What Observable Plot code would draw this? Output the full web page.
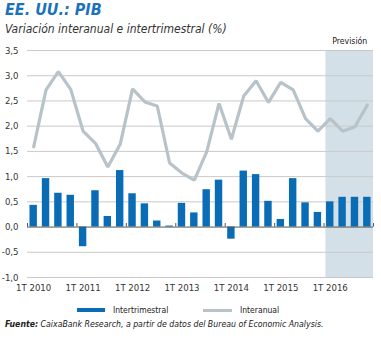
<!DOCTYPE html>
<html><head><meta charset="utf-8">
<script src="https://cdn.jsdelivr.net/npm/d3@7"></script>
<script src="https://cdn.jsdelivr.net/npm/@observablehq/plot@0.6"></script>
<style>
body{margin:0;background:#fff;}
#wrap{position:relative;width:381px;height:338px;overflow:hidden;font-family:"DejaVu Sans Condensed","Liberation Sans Narrow",sans-serif;color:#222;}
#title{position:absolute;left:5px;top:1px;font-size:16px;line-height:18px;font-weight:bold;font-style:italic;color:#1a73ba;white-space:nowrap;}
#sub{position:absolute;left:5px;top:22px;font-size:12px;line-height:15px;font-style:italic;color:#333;white-space:nowrap;}
#chart{position:absolute;left:0;top:34px;}
.sw{position:absolute;}
.lt{position:absolute;font-size:8.5px;line-height:10px;color:#222;white-space:nowrap;}
#caption{position:absolute;left:5px;top:319px;font-size:8.7px;line-height:11px;font-style:italic;color:#222;white-space:nowrap;}
</style></head>
<body>
<div id="wrap">
  <div id="title">EE. UU.: PIB</div>
  <div id="sub">Variación interanual e intertrimestral (%)</div>
  <div id="chart"></div>
  <div class="sw" style="left:77px;top:308px;width:28px;height:4px;background:#0a6cb4"></div>
  <div class="lt" style="left:113px;top:305px;">Intertrimestral</div>
  <div class="sw" style="left:203px;top:309px;width:29px;height:3px;background:#b7c3c9"></div>
  <div class="lt" style="left:240px;top:305px;">Interanual</div>
  <div id="caption"><b>Fuente:</b> CaixaBank Research, a partir de datos del Bureau of Economic Analysis.</div>
</div>
<script>
const years = [2010, 2011, 2012, 2013, 2014, 2015, 2016];
const quarterNames = ["1T", "2T", "3T", "4T"];
const intertrimestral = [0.43, 0.96, 0.67, 0.63, -0.39, 0.72, 0.21, 1.12, 0.66, 0.46, 0.12, 0.02, 0.47, 0.28, 0.74, 0.93, -0.24, 1.11, 1.04, 0.51, 0.15, 0.96, 0.48, 0.29, 0.50, 0.59, 0.59, 0.59];
const interanual = [1.59, 2.72, 3.08, 2.73, 1.90, 1.66, 1.19, 1.64, 2.74, 2.48, 2.40, 1.27, 1.07, 0.93, 1.49, 2.45, 1.74, 2.60, 2.90, 2.47, 2.87, 2.72, 2.15, 1.90, 2.15, 1.90, 1.99, 2.42];
const forecastYear = 2016;
const yTicks = [-1, -0.5, 0, 0.5, 1, 1.5, 2, 2.5, 3, 3.5];

const quarters = years.flatMap(y => quarterNames.map(q => `${q} ${y}`));
const data = quarters.map((name, i) => ({i, name, q: intertrimestral[i], a: interanual[i], year: years[Math.floor(i / 4)]}));
const forecast = data.filter(d => d.year === forecastYear);
const yearStarts = data.filter(d => d.name.startsWith("1T")).map(d => d.i);
const boundaries = [...yearStarts.map(i => i - 0.5), data.length - 0.5];
const shade = [{x1: forecast[0].i - 0.35, x2: forecast[forecast.length - 1].i + 0.5}];

const fmt = d => d.toFixed(1).replace(".", ",");

const chart = Plot.plot({
  width: 381,
  height: 270,
  marginTop: 16,
  marginBottom: 27,
  marginLeft: 27,
  marginRight: 8,
  style: {fontFamily: '"DejaVu Sans Condensed","Liberation Sans Narrow",sans-serif', fontSize: "9.5px", color: "#333", background: "transparent"},
  x: {domain: [-0.5, data.length - 0.5], label: null},
  y: {domain: [-1, 3.5], label: null},
  marks: [
    Plot.rect(shade, {x1: "x1", x2: "x2", y1: -1, y2: 3.5, fill: "#d3e0e8"}),
    Plot.text(shade, {x: d => (d.x1 + d.x2) / 2, y: 3.5, dy: -9, text: () => "Previsión", fill: "#222", fontSize: 8.7}),
    Plot.ruleY(yTicks.filter(t => t !== 0), {stroke: "#c9c9c9", strokeWidth: 1}),
    Plot.rectY(data, {x1: d => d.i - 0.3, x2: d => d.i + 0.3, y: "q", fill: "#0a6cb4"}),
    Plot.ruleY([0], {stroke: "#555", strokeWidth: 1}),
    Plot.ruleX(boundaries, {y1: 0, y2: 0.07, stroke: "#555", strokeWidth: 1}),
    Plot.lineY(data, {x: "i", y: "a", stroke: "#b7c3c9", strokeWidth: 3.2, strokeLinejoin: "miter"}),
    Plot.axisX({ticks: yearStarts, tickFormat: i => quarters[i], tickSize: 0, tickPadding: 7, fontSize: 9.5}),
    Plot.axisY({ticks: yTicks, tickFormat: fmt, tickSize: 0, tickPadding: 9, fontSize: 9.5})
  ]
});
document.getElementById("chart").appendChild(chart);
</script>
</body></html>
